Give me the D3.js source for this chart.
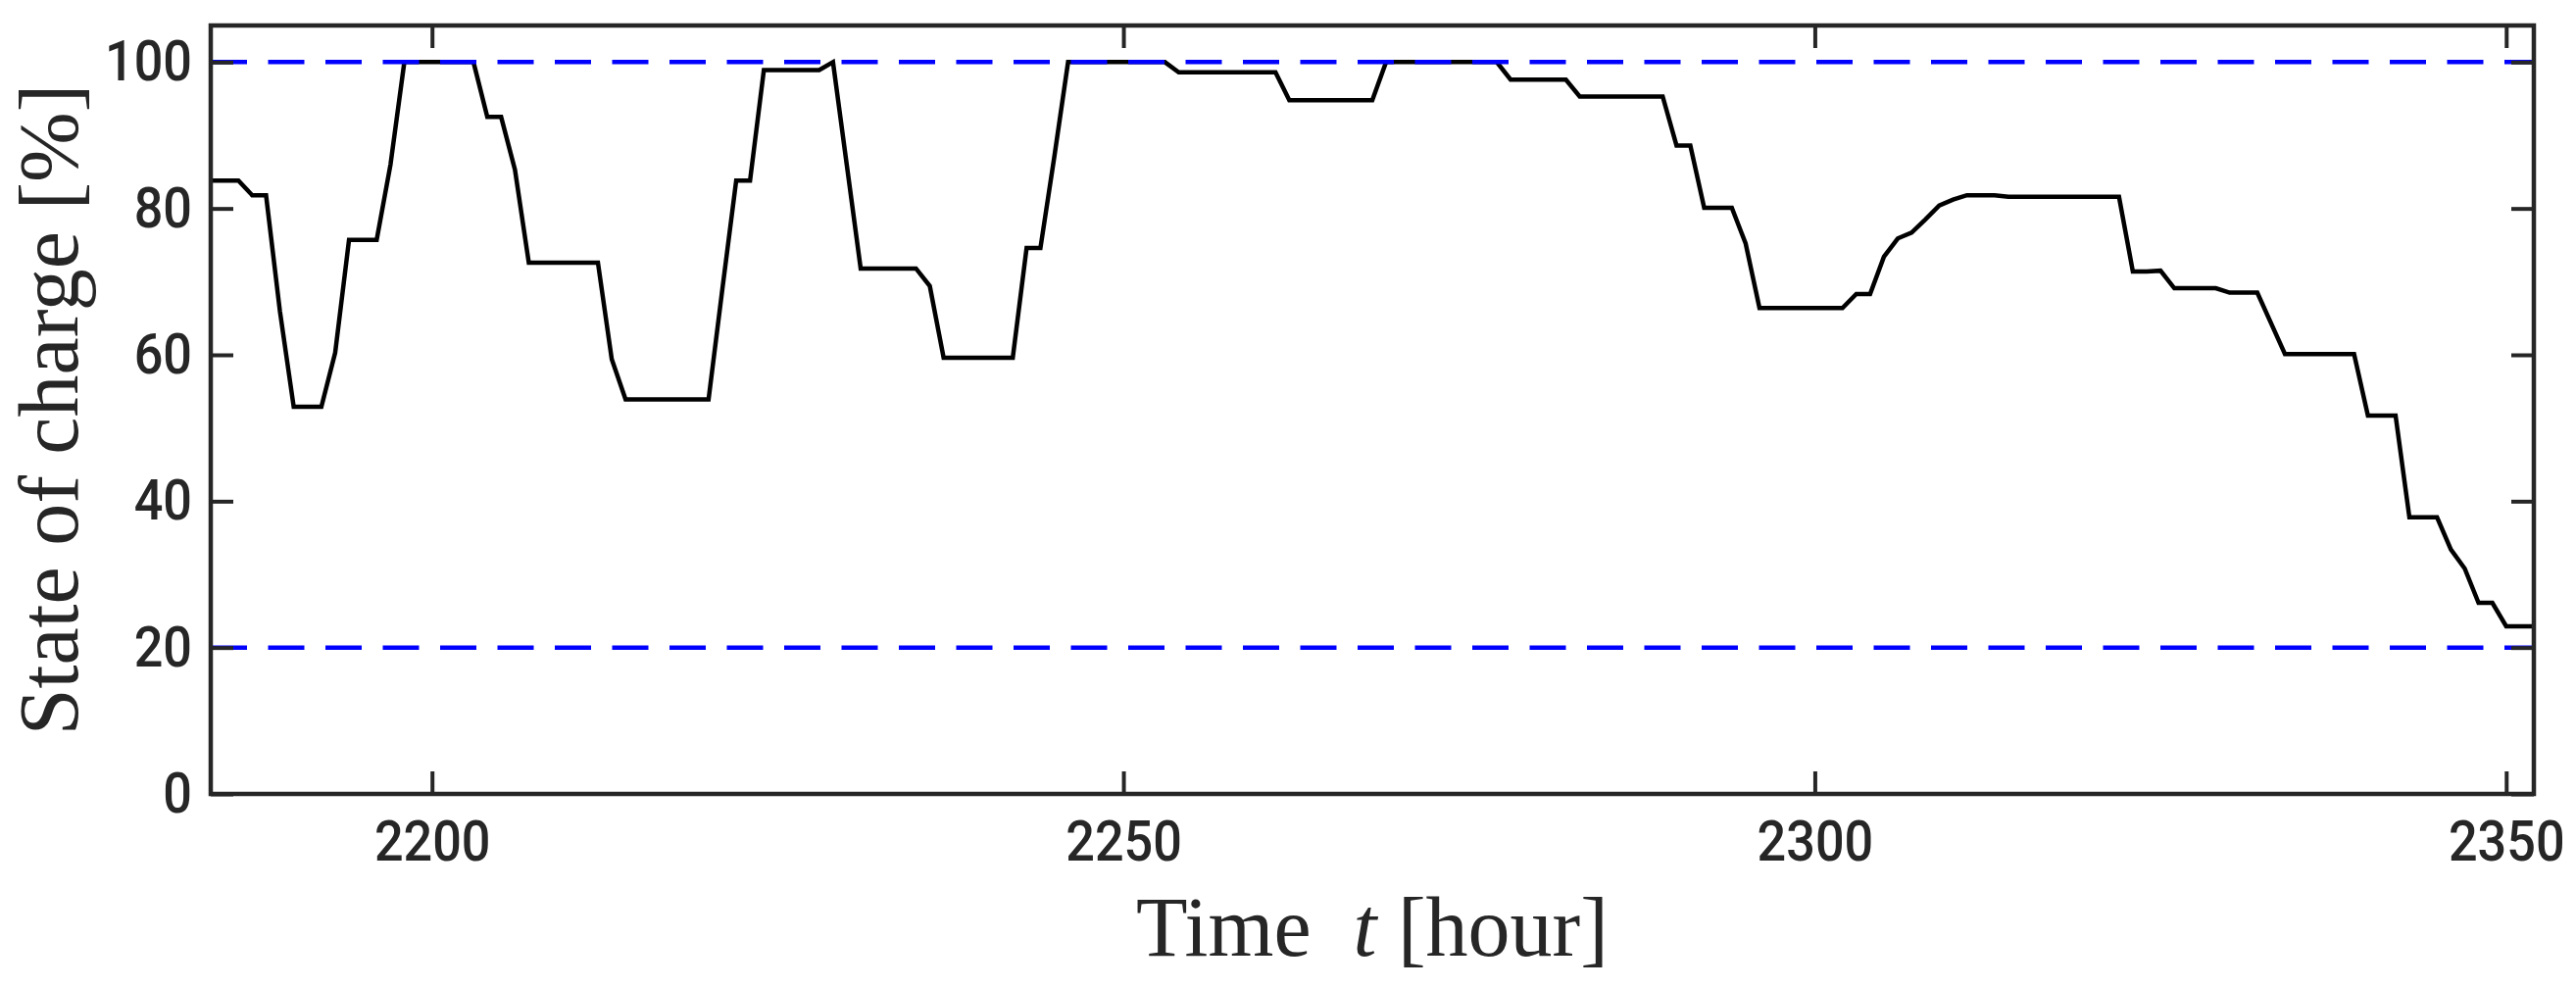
<!DOCTYPE html>
<html>
<head>
<meta charset="utf-8">
<script src="https://cdn.jsdelivr.net/npm/d3@7"></script>
<style>
  html, body { margin: 0; padding: 0; background: #fff; }
  svg { display: block; }
</style>
</head>
<body>
<div id="container"></div>
<script>
// chart data: hourly state of charge, first hour is START_HOUR
const START_HOUR = 2184;
const socValues = [
  83.8, 83.8, 83.8, 81.8, 81.8, 66.0, 52.9, 52.9, 52.9, 60.3,   // 2184-2193
  75.7, 75.7, 75.7, 86.0, 100, 100, 100, 100, 100, 100,         // 2194-2203
  92.5, 92.5, 85.3, 72.6, 72.6, 72.6, 72.6, 72.6, 72.6, 59.4,   // 2204-2213
  53.9, 53.9, 53.9, 53.9, 53.9, 53.9, 53.9, 69.0, 83.8, 83.8,   // 2214-2223
  98.9, 98.9, 98.9, 98.9, 98.9, 100, 85.9, 71.8, 71.8, 71.8,    // 2224-2233
  71.8, 71.8, 69.4, 59.6, 59.6, 59.6, 59.6, 59.6, 59.6, 74.6,   // 2234-2243
  74.6, 87.0, 100, 100, 100, 100, 100, 100, 100, 100,           // 2244-2253
  98.6, 98.6, 98.6, 98.6, 98.6, 98.6, 98.6, 98.6, 94.8, 94.8,   // 2254-2263
  94.8, 94.8, 94.8, 94.8, 94.8, 100, 100, 100, 100, 100,        // 2264-2273
  100, 100, 100, 100, 97.6, 97.6, 97.6, 97.6, 97.6, 95.3,       // 2274-2283
  95.3, 95.3, 95.3, 95.3, 95.3, 95.3, 88.6, 88.6, 80.1, 80.1,   // 2284-2293
  80.1, 75.2, 66.4, 66.4, 66.4, 66.4, 66.4, 66.4, 66.4, 68.3,   // 2294-2303
  68.3, 73.4, 75.9, 76.7, 78.5, 80.4, 81.2, 81.8, 81.8, 81.8,   // 2304-2313
  81.6, 81.6, 81.6, 81.6, 81.6, 81.6, 81.6, 81.6, 81.6, 71.4,   // 2314-2323
  71.4, 71.5, 69.1, 69.1, 69.1, 69.1, 68.5, 68.5, 68.5, 64.3,   // 2324-2333
  60.1, 60.1, 60.1, 60.1, 60.1, 60.1, 51.7, 51.7, 51.7, 37.8,   // 2334-2343
  37.8, 37.8, 33.4, 30.8, 26.1, 26.1, 22.9, 22.9, 22.9          // 2344-2352
];
const socLimits = [100, 20];
const xTicks = [2200, 2250, 2300, 2350];
const yTicks = [0, 20, 40, 60, 80, 100];
const xDomain = [2184, 2352];
const yDomain = [0, 105];

// define constants
const WIDTH = 2628;
const HEIGHT = 1008;
const MARGIN = { top: 26, right: 43, bottom: 198, left: 215 };
const AXIS_COLOR = "#262626";
const TICK_LEN = 23;

const canvas = d3.select("#container")
    .append("svg")
    .attr("width", WIDTH)
    .attr("height", HEIGHT);

const xScale = d3.scaleLinear()
    .domain(xDomain)
    .range([MARGIN.left, WIDTH - MARGIN.right]);

const yScale = d3.scaleLinear()
    .domain(yDomain)
    .range([HEIGHT - MARGIN.bottom, MARGIN.top]);

const series = socValues.map((v, i) => [START_HOUR + i, v]);

// soc line
const line = d3.line()
    .x((d) => xScale(d[0]))
    .y((d) => yScale(d[1]));

canvas.append("path")
    .datum(series)
    .attr("fill", "none")
    .attr("stroke", "#000")
    .attr("stroke-width", 4.5)
    .attr("d", line);

// upper / lower limits, drawn over the line
canvas.selectAll(".limit")
    .data(socLimits)
    .enter()
    .append("line")
    .attr("class", "limit")
    .attr("x1", xScale(xDomain[0]))
    .attr("x2", xScale(xDomain[1]))
    .attr("y1", (d) => yScale(d))
    .attr("y2", (d) => yScale(d))
    .attr("stroke", "#0000ff")
    .attr("stroke-width", 4.5)
    .attr("stroke-dasharray", "37,21.5");

const tickFont = "Roboto, 'Liberation Sans', sans-serif";

const styleAxis = (g) => {
    g.select(".domain").remove();
    g.selectAll(".tick line").attr("stroke", AXIS_COLOR).attr("stroke-width", 4);
    g.selectAll(".tick text")
        .attr("fill", AXIS_COLOR)
        .style("font-family", tickFont)
        .style("font-weight", 500)
        .style("font-size", "58px")
        // squeeze digits a little, like the narrow gothic face of the original
        .each(function () {
            const t = d3.select(this);
            const x = +t.attr("x") || 0;
            t.attr("x", 0).attr("transform", "translate(" + x + ",0) scale(0.9,1)");
        });
};

// bottom axis
canvas.append("g")
    .attr("transform", "translate(0," + yScale(0) + ")")
    .call(d3.axisBottom(xScale).tickValues(xTicks).tickFormat(d3.format("d"))
        .tickSizeInner(-TICK_LEN).tickSizeOuter(0).tickPadding(27))
    .call(styleAxis);

// top axis (ticks only)
canvas.append("g")
    .attr("transform", "translate(0," + yScale(yDomain[1]) + ")")
    .call(d3.axisTop(xScale).tickValues(xTicks).tickFormat("")
        .tickSizeInner(-TICK_LEN).tickSizeOuter(0))
    .call(styleAxis);

// left axis
canvas.append("g")
    .attr("transform", "translate(" + xScale(xDomain[0]) + ",0)")
    .call(d3.axisLeft(yScale).tickValues(yTicks)
        .tickSizeInner(-TICK_LEN).tickSizeOuter(0).tickPadding(19))
    .call(styleAxis);

// right axis (ticks only)
canvas.append("g")
    .attr("transform", "translate(" + xScale(xDomain[1]) + ",0)")
    .call(d3.axisRight(yScale).tickValues(yTicks).tickFormat("")
        .tickSizeInner(-TICK_LEN).tickSizeOuter(0))
    .call(styleAxis);

// frame
canvas.append("rect")
    .attr("x", xScale(xDomain[0]))
    .attr("y", yScale(yDomain[1]))
    .attr("width", xScale(xDomain[1]) - xScale(xDomain[0]))
    .attr("height", yScale(yDomain[0]) - yScale(yDomain[1]))
    .attr("fill", "none")
    .attr("stroke", AXIS_COLOR)
    .attr("stroke-width", 4.5);

// label x axis
const xLabel = canvas.append("text")
    .attr("x", (xScale(xDomain[0]) + xScale(xDomain[1])) / 2)
    .attr("y", 975)
    .attr("text-anchor", "middle")
    .attr("fill", AXIS_COLOR)
    .style("font-family", "'Liberation Serif', 'Times New Roman', serif")
    .style("font-size", "86px")
    .style("white-space", "pre");
xLabel.append("tspan").text("Time  ");
xLabel.append("tspan").style("font-style", "italic").text("t");
xLabel.append("tspan").text(" [hour]");

// label y axis
canvas.append("text")
    .attr("transform", "translate(79," + (yScale(yDomain[0]) + yScale(yDomain[1])) / 2 + ") rotate(-90)")
    .attr("text-anchor", "middle")
    .attr("fill", AXIS_COLOR)
    .style("font-family", "'Liberation Serif', 'Times New Roman', serif")
    .style("font-size", "86px")
    .text("State of charge [%]");
</script>
</body>
</html>
